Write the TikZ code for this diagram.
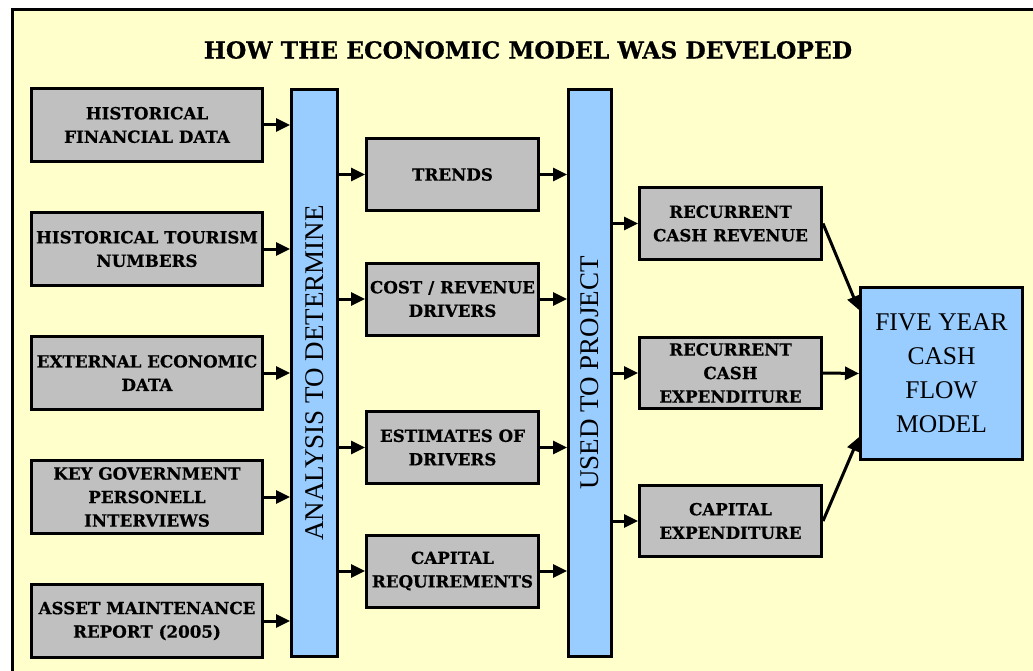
\documentclass[tikz,border=0pt]{standalone}
\usepackage{fontspec}
\usepackage{graphicx}
\setmainfont{Liberation Serif}
\newfontfamily\lblfont[BoldFeatures={FakeBold=0.6}]{DejaVu Serif}
\usetikzlibrary{arrows.meta,positioning}
\definecolor{pageColor}{HTML}{FFFFCC}
\definecolor{boxColor}{HTML}{C0C0C0}
\definecolor{barColor}{HTML}{99CCFF}
\tikzset{
	stage/.style={draw, fill=boxColor, line width=3pt, align=center, inner sep=1pt,
		font=\lblfont\bfseries\fontsize{16.7}{23.5}\selectfont},
	bar/.style={draw, fill=barColor, line width=3pt, minimum width=45pt, minimum height=567pt,
		inner sep=0pt, font=\fontsize{27}{27}\selectfont},
	flow/.style={-{Triangle[length=14pt,width=13pt]}, line width=3pt}
}

\begin{document}
\begin{tikzpicture}[x=1pt, y=-1pt]
	\useasboundingbox (0,0) rectangle (1033,671);
	% page
	\fill[pageColor] (12,10) rectangle (1033,671);
	\draw[line width=3pt] (12,671) -- (12,10) -- (1033,10);
	
	\node[font=\lblfont\bfseries\fontsize{23.4}{26}\selectfont] (title) at (528,50) {HOW THE ECONOMIC MODEL WAS DEVELOPED};
	
	% sources
	\node[stage, minimum width=231pt, minimum height=72.5pt] (hfin) at (147,125) {HISTORICAL\\FINANCIAL DATA};
	\node[stage, minimum width=231pt, minimum height=72.5pt] (htour) at (147,249) {HISTORICAL TOURISM\\NUMBERS};
	\node[stage, minimum width=231pt, minimum height=72.5pt] (extecon) at (147,373) {EXTERNAL ECONOMIC\\DATA};
	\node[stage, minimum width=231pt, minimum height=72.5pt] (keygov) at (147,497) {KEY GOVERNMENT\\PERSONELL\\INTERVIEWS};
	\node[stage, minimum width=231pt, minimum height=72.5pt] (asset) at (147,621) {ASSET MAINTENANCE\\REPORT (2005)};
	
	\node[bar, minimum width=46pt] (ana) at (314.5,373) {\rotatebox{90}{ANALYSIS TO DETERMINE}};
	
	% analysis results
	\node[stage, minimum width=172pt, minimum height=72pt] (trends) at (452.5,174.5) {TRENDS};
	\node[stage, minimum width=172pt, minimum height=72pt] (drivers) at (452.5,299) {COST / REVENUE\\DRIVERS};
	\node[stage, minimum width=172pt, minimum height=72pt] (estim) at (452.5,447.5) {ESTIMATES OF\\DRIVERS};
	\node[stage, minimum width=172pt, minimum height=72pt] (capreq) at (452.5,571) {CAPITAL\\REQUIREMENTS};
	
	\node[bar, minimum width=43pt] (used) at (590,373) {\rotatebox{90}{USED TO PROJECT}};
	
	% projections
	\node[stage, minimum width=182pt, minimum height=71.5pt] (rrev) at (730.5,223.5) {RECURRENT\\CASH REVENUE};
	\node[stage, minimum width=182pt, minimum height=71.5pt] (rexp) at (730.5,373) {RECURRENT\\CASH\\EXPENDITURE};
	\node[stage, minimum width=182pt, minimum height=71.5pt] (capexp) at (730.5,521) {CAPITAL\\EXPENDITURE};
	
	\node[draw, fill=barColor, line width=3pt, minimum width=162pt, minimum height=172pt, align=center,
		font=\fontsize{25.5}{34}\selectfont] (cfm) at (941.5,373.5) {FIVE YEAR\\CASH\\FLOW\\MODEL};
	
	\foreach \src in {hfin,htour,extecon,keygov,asset}
		\draw[flow] (\src.east) -- (\src.east -| ana.west);
	\foreach \res in {trends,drivers,estim,capreq}{
		\draw[flow] (\res.west -| ana.east) -- (\res.west);
		\draw[flow] (\res.east) -- (\res.east -| used.west);
	}
	\foreach \prj in {rrev,rexp,capexp}
		\draw[flow] (\prj.west -| used.east) -- (\prj.west);
	
	\draw[flow] (rrev.east) -- ([yshift=-24pt]cfm.north west);
	\draw[flow] (rexp.east) -- (cfm.west);
	\draw[flow] (capexp.east) -- ([yshift=24pt]cfm.south west);
\end{tikzpicture}
\end{document}
